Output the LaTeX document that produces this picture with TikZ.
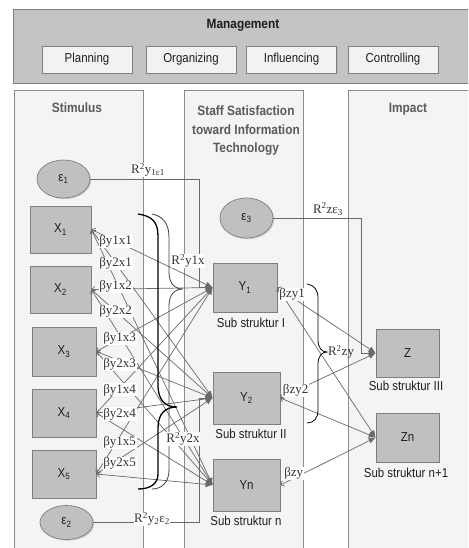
\documentclass[tikz,border=0pt]{standalone}
\usepackage{fontspec}
\setmainfont{Liberation Sans}
\newfontfamily\nsans{Liberation Sans}[FakeStretch=0.88]
\newfontfamily\lserif{Liberation Serif}
\usetikzlibrary{arrows.meta,shadows,shapes.geometric}
\definecolor{panelfill}{HTML}{F4F4F4}
\definecolor{panelline}{HTML}{8C8C8C}
\definecolor{mgfill}{HTML}{C4C4C4}
\definecolor{tabfill}{HTML}{F2F2F2}
\definecolor{boxfill}{HTML}{C0C0C0}
\definecolor{boxline}{HTML}{7F7F7F}
\definecolor{txt}{HTML}{1E1E1E}
\definecolor{headtxt}{HTML}{5A5A5A}
\definecolor{linec}{HTML}{6A6A6A}
\begin{document}
\begin{tikzpicture}[x=1pt,y=-1pt,
  panel/.style={draw=panelline,fill=panelfill,line width=0.8pt},
  tab/.style={draw=boxline,fill=tabfill,minimum width=90pt,minimum height=27pt,inner sep=0pt,
    font=\nsans\fontsize{13}{15}\selectfont,text=txt,
    drop shadow={shadow xshift=1pt,shadow yshift=-1pt,fill=black!35,opacity=.5}},
  head/.style={font=\nsans\bfseries\fontsize{13.5}{18.5}\selectfont,text=headtxt,align=center,inner sep=0pt},
  box/.style={draw=boxline,fill=boxfill,inner sep=0pt,line width=0.7pt,
    font=\nsans\fontsize{13}{15}\selectfont,text=txt,
    drop shadow={shadow xshift=1.2pt,shadow yshift=-1.2pt,fill=black!35,opacity=.5}},
  eps/.style={ellipse,draw=boxline,fill=boxfill,inner sep=0pt,line width=0.7pt,
    minimum width=53pt,font=\nsans\fontsize{13}{15}\selectfont,text=txt,
    drop shadow={shadow xshift=1.2pt,shadow yshift=-1.2pt,fill=black!35,opacity=.5}},
  sub/.style={font=\nsans\fontsize{13}{15}\selectfont,text=txt,inner sep=0pt},
  lbl/.style={fill=white,inner sep=0.6pt,font=\lserif\fontsize{13}{14}\selectfont,text=black!80},
  link/.style={draw=linec,line width=0.7pt,
    {Straight Barb[length=3pt,width=6pt]}-{Latex[length=7pt,width=6pt]}},
  elink/.style={draw=linec,line width=0.7pt,-{Latex[length=7pt,width=6pt]}},
  bracea/.style={draw=black,line width=1.3pt},
  braceb/.style={draw=black!75,line width=0.8pt}
]
\clip (0,0) rectangle (468,548);
\fill[white] (0,0) rectangle (468,548);

% Management
\draw[draw=boxline,fill=mgfill,line width=0.8pt,
  drop shadow={shadow xshift=1.2pt,shadow yshift=-1.5pt,fill=black!35,opacity=.5}] (13,9) rectangle (480,83);
\node[head,text=txt] (mgt) at (243,25) {Management};
\node[tab] (plan) at (87,59.5) {Planning};
\node[tab] (org) at (191,59.5) {Organizing};
\node[tab] (infl) at (291.5,59.5) {Influencing};
\node[tab] (ctrl) at (393,59.5) {Controlling};

% panels
\draw[panel] (14,90) rectangle (143,560);
\draw[panel] (184,90) rectangle (303,560);
\draw[panel] (348,90) rectangle (480,560);
\node[head] (hstim) at (77,108) {Stimulus};
\node[head] (hsat) at (246,131) {Staff Satisfaction\\toward Information\\Technology};
\node[head] (himp) at (408,109) {Impact};

% nodes
\node[eps,minimum height=38pt] (e1) at (63.5,179) {ε\textsubscript{1}};
\node[box,minimum width=61pt,minimum height=47pt] (X1) at (60.5,229.5) {X\textsubscript{1}};
\node[box,minimum width=61pt,minimum height=47pt] (X2) at (60.5,289.5) {X\textsubscript{2}};
\node[box,minimum width=64pt,minimum height=49pt] (X3) at (64,351.5) {X\textsubscript{3}};
\node[box,minimum width=64pt,minimum height=48pt] (X4) at (64,413) {X\textsubscript{4}};
\node[box,minimum width=64pt,minimum height=48pt] (X5) at (64,474) {X\textsubscript{5}};
\node[eps,minimum height=34pt] (e2) at (66.5,522.5) {ε\textsubscript{2}};
\node[eps,minimum height=40pt] (e3) at (246.5,218) {ε\textsubscript{3}};
\node[box,minimum width=64pt,minimum height=49pt] (Y1) at (245,287.5) {Y\textsubscript{1}};
\node[box,minimum width=67pt,minimum height=52pt] (Y2) at (246.5,398) {Y\textsubscript{2}};
\node[box,minimum width=67pt,minimum height=52pt] (Yn) at (246.5,485) {Yn};
\node[box,minimum width=63pt,minimum height=48pt] (Z) at (407.5,353) {Z};
\node[box,minimum width=63pt,minimum height=49pt] (Zn) at (407.5,437.5) {Zn};
\node[sub] (s1) at (251,323) {Sub struktur I};
\node[sub] (s2) at (251,434) {Sub struktur II};
\node[sub] (sn) at (246,521) {Sub struktur n};
\node[sub] (s3) at (406,386) {Sub struktur III};
\node[sub] (sn1) at (406,473) {Sub struktur n+1};

% connectors X -> Y
\foreach \i in {1,...,5}{
  \foreach \j in {Y1,Y2,Yn}{
    \draw[link] (X\i.east) -- (\j.west);
  }
}
% error terms
\draw[elink] (e1.east) -| ([xshift=-13pt]Y1.west) -- (Y1.west);
\draw[elink] (e2.east) -| ([xshift=-13pt]Y2.west) -- (Y2.west);
\draw[elink] (e3.east) -| ([xshift=-14pt]Z.west) -- (Z.west);
% Y -> Z
\draw[link] (Y1.east) -- (Z.west);
\draw[link] (Y1.east) -- (Zn.west);
\draw[link] (Y2.east) -- (Z.west);
\draw[link] (Y2.east) -- (Zn.west);
\draw[link] (Yn.east) -- (Zn.west);

% braces
\draw[bracea] (138,214) .. controls (152,216) and (158,222) .. (158,236) -- (158,385)
  .. controls (158,400) and (165,407) .. (177,407)
  .. controls (165,407) and (158,414) .. (158,428) -- (158,474)
  .. controls (158,484) and (150,489) .. (138,489);
\draw[braceb] (152,214) .. controls (163,216) and (169,224) .. (169,237) -- (169,272)
  .. controls (169,284) and (175,289) .. (183,289)
  .. controls (175,289) and (169,294) .. (169,306) -- (169,470)
  .. controls (169,482) and (162,489) .. (152,489);
\draw[braceb,draw=black] (307,284) .. controls (314,285) and (318,290) .. (318,298) -- (318,340)
  .. controls (318,348) and (322,352) .. (327,352)
  .. controls (322,352) and (318,356) .. (318,364) -- (318,410)
  .. controls (318,418) and (314,423) .. (307,423);

% beta labels
\path (X1.east) -- (Y1.west) node[lbl,pos=.2] (b11) {βy1x1};
\path (X1.east) -- (Y2.west) node[lbl,pos=.2] (b21) {βy2x1};
\path (X2.east) -- (Y1.west) node[lbl,pos=.2,yshift=3pt] (b12) {βy1x2};
\path (X2.east) -- (Y2.west) node[lbl,pos=.2] (b22) {βy2x2};
\path (X3.east) -- (Y1.west) node[lbl,pos=.2] (b13) {βy1x3};
\path (X3.east) -- (Y2.west) node[lbl,pos=.2,yshift=-4pt] (b23) {βy2x3};
\path (X4.east) -- (Y1.west) node[lbl,pos=.2,yshift=-2pt] (b14) {βy1x4};
\path (X4.east) -- (Y2.west) node[lbl,pos=.2,yshift=-4pt] (b24) {βy2x4};
\path (X5.east) -- (Y1.west) node[lbl,pos=.2,yshift=-6pt] (b15) {βy1x5};
\path (X5.east) -- (Y2.west) node[lbl,pos=.2,yshift=-5pt] (b25) {βy2x5};
\path (Y1.east) -- (Z.west) node[lbl,pos=.15,yshift=3pt] (bz1) {βzy1};
\path (Y2.east) -- (Z.west) node[lbl,pos=.16] (bz2) {βzy2};
\path (Yn.east) -- (Zn.west) node[lbl,pos=.14,yshift=5pt] (bzn) {βzy};

% R^2 labels
\node[lbl] (r1) at (148,170) {R\textsuperscript{2}y\textsubscript{1ε1}};
\node[lbl] (r2) at (188,261) {R\textsuperscript{2}y1x};
\node[lbl] (r3) at (183,439) {R\textsuperscript{2}y2x};
\node[lbl] (r4) at (152,519) {R\textsuperscript{2}y\textsubscript{2}ε\textsubscript{2}};
\node[lbl] (r5) at (328,209) {R\textsuperscript{2}zε\textsubscript{3}};
\node[lbl,fill=none] (r6) at (341,352) {R\textsuperscript{2}zy};
\end{tikzpicture}
\end{document}
